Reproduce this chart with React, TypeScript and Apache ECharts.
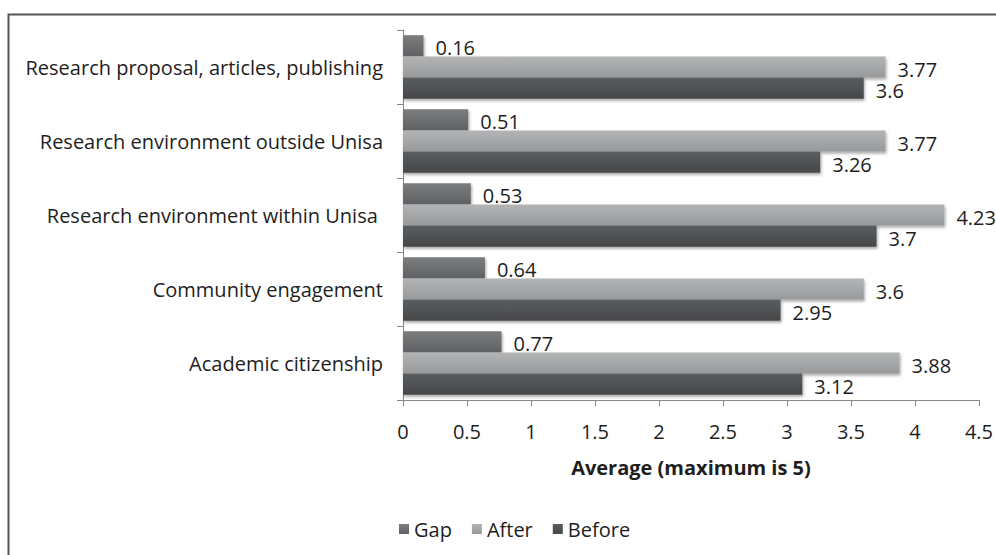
import React, { useEffect, useRef } from "react";
import * as echarts from "echarts";

// Survey categories, listed top to bottom
const categories = [
  "Research proposal, articles, publishing",
  "Research environment outside Unisa",
  "Research environment within Unisa ",
  "Community engagement",
  "Academic citizenship",
];

const gapValues = [0.16, 0.51, 0.53, 0.64, 0.77];
const afterValues = [3.77, 3.77, 4.23, 3.6, 3.88];
const beforeValues = [3.6, 3.26, 3.7, 2.95, 3.12];

const xTicks = { min: 0, max: 4.5, interval: 0.5 };

const FONT = "'Open Sans', 'Noto Sans', sans-serif";
const FS = 20;

const grad = (top: string, bottom: string) =>
  new echarts.graphic.LinearGradient(0, 0, 0, 1, [
    { offset: 0, color: top },
    { offset: 1, color: bottom },
  ]);

export default function App() {
  const ref = useRef<HTMLDivElement>(null);

  useEffect(() => {
    if (!ref.current) return;
    const chart = echarts.init(ref.current, undefined, { renderer: "svg" });

    const barStyle = (top: string, bottom: string) => ({
      color: grad(top, bottom),
      shadowColor: "rgba(0,0,0,0.35)",
      shadowBlur: 3,
      shadowOffsetX: 1,
      shadowOffsetY: 2,
    });

    const label = {
      show: true,
      position: "right" as const,
      distance: 12,
      color: "#1e1e1e",
      fontFamily: FONT,
      fontSize: FS,
      offset: [0, 2],
    };

    chart.setOption({
      animation: false,
      backgroundColor: "#ffffff",
      graphic: [
        {
          type: "rect",
          shape: { x: 8.5, y: 14.5, width: 1100, height: 700 },
          style: { fill: "none", stroke: "#555555", lineWidth: 2 },
          silent: true,
        },
      ],
      grid: { left: 403, top: 30, right: 17, bottom: 155, containLabel: false },
      legend: {
        data: ["Gap", "After", "Before"],
        left: 394,
        top: 514,
        icon: "rect",
        itemWidth: 10,
        itemHeight: 10,
        itemGap: 20,
        textStyle: { fontFamily: FONT, fontSize: FS, color: "#1e1e1e" },
      },
      xAxis: {
        type: "value",
        min: xTicks.min,
        max: xTicks.max,
        interval: xTicks.interval,
        name: "Average (maximum is 5)",
        nameLocation: "middle",
        nameGap: 57,
        nameTextStyle: {
          fontFamily: FONT,
          fontSize: FS,
          fontWeight: "bold",
          color: "#1e1e1e",
        },
        axisLine: { show: true, lineStyle: { color: "#868686", width: 1 } },
        axisTick: { show: true, length: 6, lineStyle: { color: "#868686" } },
        axisLabel: {
          fontFamily: FONT,
          fontSize: FS,
          color: "#1e1e1e",
          margin: 21,
        },
        splitLine: { show: false },
      },
      yAxis: {
        type: "category",
        data: categories,
        inverse: true,
        axisLine: { show: true, lineStyle: { color: "#868686", width: 1 } },
        axisTick: { show: true, length: 6, lineStyle: { color: "#868686" } },
        axisLabel: {
          fontFamily: FONT,
          fontSize: FS,
          color: "#1e1e1e",
          margin: 20,
        },
      },
      series: [
        {
          name: "Gap",
          type: "bar",
          data: gapValues,
          barGap: "0%",
          barCategoryGap: "14%",
          itemStyle: barStyle("#7b7d7f", "#5f6163"),
          label,
        },
        {
          name: "After",
          type: "bar",
          data: afterValues,
          barGap: "0%",
          barCategoryGap: "14%",
          itemStyle: barStyle("#b2b4b6", "#97999b"),
          label,
        },
        {
          name: "Before",
          type: "bar",
          data: beforeValues,
          barGap: "0%",
          barCategoryGap: "14%",
          itemStyle: barStyle("#5a5d5f", "#454749"),
          label,
        },
      ],
    });

    return () => chart.dispose();
  }, []);

  return (
    <div
      ref={ref}
      style={{ position: "fixed", left: 0, top: 0, width: 996, height: 555 }}
    />
  );
}
